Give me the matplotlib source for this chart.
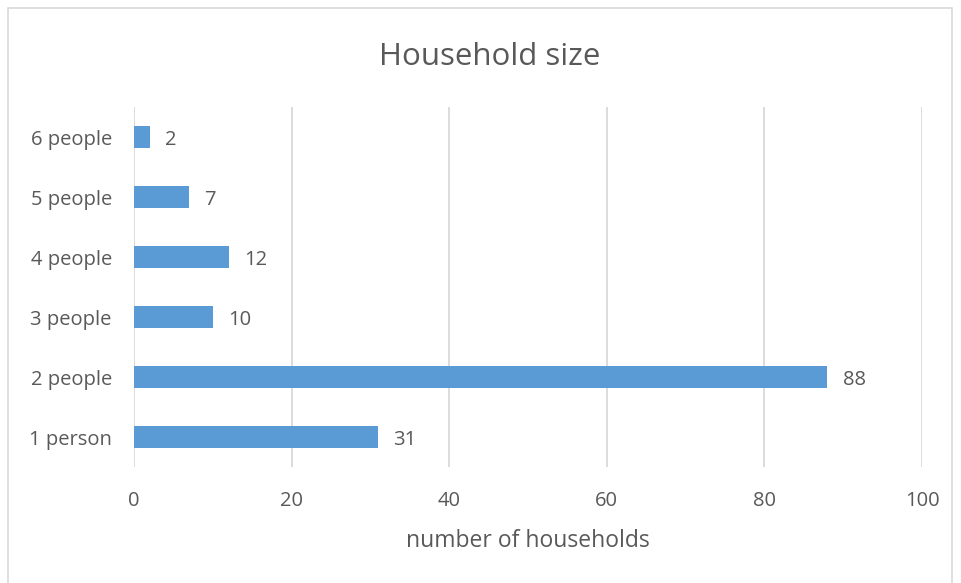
import matplotlib.pyplot as plt
from matplotlib.patches import Rectangle

categories = ["1 person", "2 people", "3 people", "4 people", "5 people", "6 people"]
households = [31, 88, 10, 12, 7, 2]
x_ticks = [0, 20, 40, 60, 80, 100]

text_col = "#595959"
plt.rcParams['font.family'] = ['Open Sans', 'DejaVu Sans']

fig = plt.figure(figsize=(9.62, 5.83), dpi=100)
ax = fig.add_axes([134 / 962, 1 - 467 / 583, (922 - 134) / 962, (467 - 107) / 583])

pos = list(range(len(categories)))
ax.barh(pos, households, height=0.36, color="#5B9BD5", zorder=3)
# value labels to the right of each bar
for p, v in zip(pos, households):
    ax.annotate(str(v), (v, p), xytext=(11, -2), textcoords="offset points",
                va="center", ha="left", fontsize=14.5, color=text_col)

ax.set_xlim(0, 100)
ax.set_ylim(-0.5, 5.5)
ax.set_xticks(x_ticks)
ax.set_yticks(pos)
ax.set_yticklabels(categories)
ax.tick_params(axis="both", length=0, labelsize=14.5, labelcolor=text_col)
ax.tick_params(axis="y", pad=16)
ax.tick_params(axis="x", pad=17)
ax.grid(axis="x", color="#D9D9D9", linewidth=1.3, zorder=0)
for s in ax.spines.values():
    s.set_visible(False)

ax.set_xlabel("number of households", fontsize=16.5, color=text_col, labelpad=13)
fig.text(490 / 962, 1 - 57 / 583, "Household size", ha="center", va="center",
         fontsize=22.5, color=text_col)

# outer chart frame
fig.patches.append(Rectangle((8 / 962, -0.05), (952 - 8) / 962, 1 - 8 / 583 + 0.05,
                             transform=fig.transFigure, fill=False,
                             edgecolor="#D9D9D9", linewidth=1.2))

fig.savefig("out.png", dpi=100)
